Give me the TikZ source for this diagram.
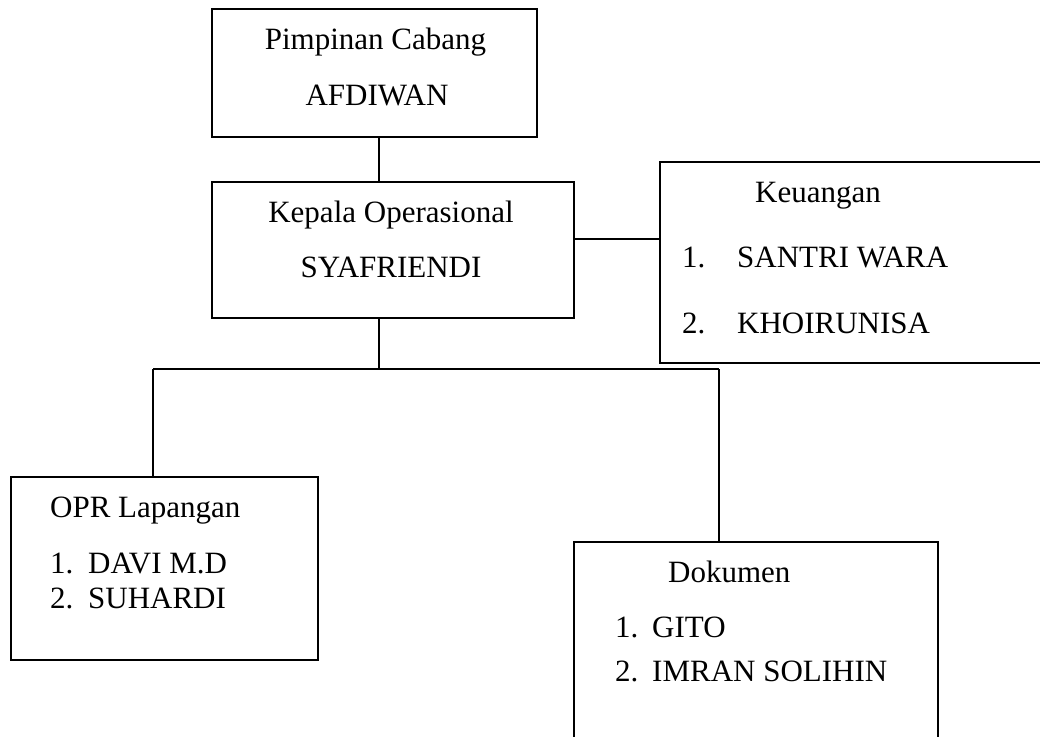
\documentclass[tikz,border=0pt]{standalone}
\usepackage{fontspec}
\setmainfont{Liberation Serif}
\usepackage{tikz}
\usetikzlibrary{positioning, calc}

\newcommand{\numitem}[3][38pt]{\makebox[#1][l]{#2}#3}

\tikzset{
    unitbox/.style={draw, line width=1.4pt, inner sep=0pt},
    lbl/.style={inner sep=0pt, font=\fontsize{31}{37}\selectfont},
    link/.style={line width=1.4pt}
}

\begin{document}
\begin{tikzpicture}[x=1pt, y=-1pt]
    % Frame of the page
    \clip (0,0) rectangle (1040,736);

    % Boxes
    \node[unitbox, minimum width=325pt, minimum height=128pt] (pimpinan) at (374.5,73) {};
    \node[unitbox, minimum width=362pt, minimum height=136pt] (kepala) at (393,250) {};
    \node[unitbox, minimum width=390pt, minimum height=201pt] (keuangan) at (855,262.5) {};
    \node[unitbox, minimum width=307pt, minimum height=183pt] (opr) at (164.5,568.5) {};
    \node[unitbox, minimum width=364pt, minimum height=218pt] (dokumen) at (756,651) {};

    % Texts
    \node[lbl, anchor=base] (pimpinanT) at (375.5,49) {Pimpinan Cabang};
    \node[lbl, anchor=base] (pimpinanN) at (377,105) {AFDIWAN};
    \node[lbl, anchor=base] (kepalaT) at (391,222) {Kepala Operasional};
    \node[lbl, anchor=base] (kepalaN) at (391,277) {SYAFRIENDI};

    \node[lbl, anchor=base west] (keuanganT) at (755,202) {Keuangan};
    \node[lbl, anchor=base west] (keuangan1) at (682,267) {\numitem[55pt]{1.}{SANTRI WARA}};
    \node[lbl, anchor=base west] (keuangan2) at (682,333) {\numitem[55pt]{2.}{KHOIRUNISA}};

    \node[lbl, anchor=base west] (oprT) at (50,517) {OPR Lapangan};
    \node[lbl, anchor=base west] (opr1) at (50,573) {\numitem{1.}{DAVI M.D}};
    \node[lbl, anchor=base west] (opr2) at (50,608) {\numitem{2.}{SUHARDI}};

    \node[lbl, anchor=base west] (dokumenT) at (668,582) {Dokumen};
    \node[lbl, anchor=base west] (dokumen1) at (615,637) {\numitem[37pt]{1.}{GITO}};
    \node[lbl, anchor=base west] (dokumen2) at (615,681) {\numitem[37pt]{2.}{IMRAN SOLIHIN}};

    % Connectors
    \coordinate (axis) at (379,0);
    \coordinate (keuy) at (0,239);
    \coordinate (bus) at (379,369);
    \coordinate (busL) at (153,369);
    \coordinate (busR) at (719,369);

    \draw[link] (pimpinan.south -| axis) -- (kepala.north -| axis);
    \draw[link] (kepala.east |- keuy) -- (keuangan.west |- keuy);
    \draw[link] (kepala.south -| bus) -- (bus);
    \draw[link] (busL) -- (busR);
    \draw[link] (busL) -- (busL |- opr.north);
    \draw[link] (busR) -- (busR |- dokumen.north);
\end{tikzpicture}
\end{document}
